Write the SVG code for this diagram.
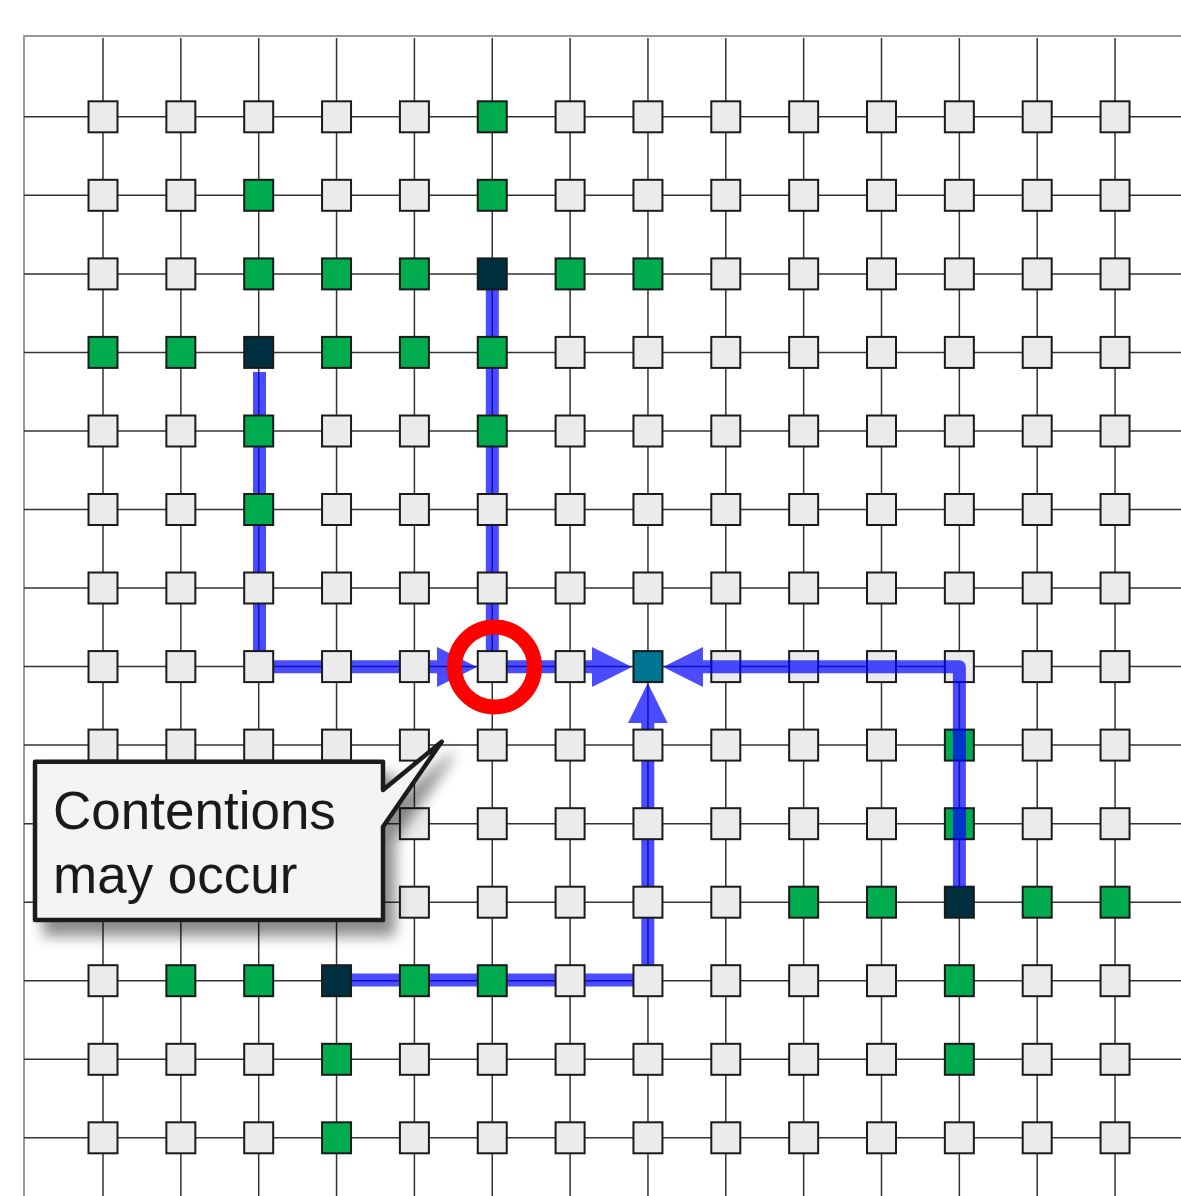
<svg xmlns="http://www.w3.org/2000/svg" xmlns:xlink="http://www.w3.org/1999/xlink" width="1181" height="1196" viewBox="0 0 1181 1196">
<style>
.gl{stroke:#333;stroke-width:1.5;fill:none}
.bd{stroke:#777;stroke-width:1.5;fill:none}
.g{fill:#ebebeb;stroke:#1a1a1a;stroke-width:2}
.gr{fill:#00ac4e;stroke:#1a1a1a;stroke-width:2}
.dk{fill:#003040;stroke:#1a1a1a;stroke-width:2}
.tl{fill:#007592;stroke:#1a1a1a;stroke-width:2}
.bl{opacity:0.7}
.bl path{stroke:#0000ff;stroke-width:13;fill:none;stroke-linejoin:round}
.bl polygon{fill:#0000ff}
.txt{font-family:"Liberation Sans",Arial,sans-serif;font-size:53px;fill:#1a1a1a}
</style>
<defs>
<rect id="sq" x="-14.5" y="-15.5" width="29" height="31"/>
<filter id="sh" x="-20%" y="-20%" width="150%" height="150%">
<feDropShadow dx="10" dy="14" stdDeviation="7" flood-color="#000" flood-opacity="0.45"/>
</filter>
</defs>
<rect width="1181" height="1196" fill="#fff"/>
<g id="grid">
<path class="bd" d="M24,1196 V36 H1181"/>
<path class="gl" d="M24,116.8H1181M24,195.3H1181M24,273.9H1181M24,352.4H1181M24,431H1181M24,509.5H1181M24,588H1181M24,666.6H1181M24,745.1H1181M24,823.7H1181M24,902.2H1181M24,980.7H1181M24,1059.3H1181M24,1137.8H1181"/>
<path class="gl" d="M103,38V1196M180.85,38V1196M258.7,38V1196M336.55,38V1196M414.4,38V1196M492.25,38V1196M570.1,38V1196M647.95,38V1196M725.8,38V1196M803.65,38V1196M881.5,38V1196M959.35,38V1196M1037.2,38V1196M1115.05,38V1196"/>
</g>
<g id="connectors-under" class="bl">
<path d="M259.5,372 V666.8 H437"/>
<polygon points="437,647 477,667 437,687"/>
<path d="M492.3,288 V666.8 H592"/>
<polygon points="592,647 632,667 592,687"/>
<path d="M345,980 H647.8 V723"/>
<polygon points="628,723 647.8,683 667.6,723"/>
</g>
<g id="nodes">
<g id="n0-0" transform="translate(103,116.8)"><use href="#sq" class="g"/></g>
<g id="n0-1" transform="translate(180.85,116.8)"><use href="#sq" class="g"/></g>
<g id="n0-2" transform="translate(258.7,116.8)"><use href="#sq" class="g"/></g>
<g id="n0-3" transform="translate(336.55,116.8)"><use href="#sq" class="g"/></g>
<g id="n0-4" transform="translate(414.4,116.8)"><use href="#sq" class="g"/></g>
<g id="n0-5" transform="translate(492.25,116.8)"><use href="#sq" class="gr"/></g>
<g id="n0-6" transform="translate(570.1,116.8)"><use href="#sq" class="g"/></g>
<g id="n0-7" transform="translate(647.95,116.8)"><use href="#sq" class="g"/></g>
<g id="n0-8" transform="translate(725.8,116.8)"><use href="#sq" class="g"/></g>
<g id="n0-9" transform="translate(803.65,116.8)"><use href="#sq" class="g"/></g>
<g id="n0-10" transform="translate(881.5,116.8)"><use href="#sq" class="g"/></g>
<g id="n0-11" transform="translate(959.35,116.8)"><use href="#sq" class="g"/></g>
<g id="n0-12" transform="translate(1037.2,116.8)"><use href="#sq" class="g"/></g>
<g id="n0-13" transform="translate(1115.05,116.8)"><use href="#sq" class="g"/></g>

<g id="n1-0" transform="translate(103,195.3)"><use href="#sq" class="g"/></g>
<g id="n1-1" transform="translate(180.85,195.3)"><use href="#sq" class="g"/></g>
<g id="n1-2" transform="translate(258.7,195.3)"><use href="#sq" class="gr"/></g>
<g id="n1-3" transform="translate(336.55,195.3)"><use href="#sq" class="g"/></g>
<g id="n1-4" transform="translate(414.4,195.3)"><use href="#sq" class="g"/></g>
<g id="n1-5" transform="translate(492.25,195.3)"><use href="#sq" class="gr"/></g>
<g id="n1-6" transform="translate(570.1,195.3)"><use href="#sq" class="g"/></g>
<g id="n1-7" transform="translate(647.95,195.3)"><use href="#sq" class="g"/></g>
<g id="n1-8" transform="translate(725.8,195.3)"><use href="#sq" class="g"/></g>
<g id="n1-9" transform="translate(803.65,195.3)"><use href="#sq" class="g"/></g>
<g id="n1-10" transform="translate(881.5,195.3)"><use href="#sq" class="g"/></g>
<g id="n1-11" transform="translate(959.35,195.3)"><use href="#sq" class="g"/></g>
<g id="n1-12" transform="translate(1037.2,195.3)"><use href="#sq" class="g"/></g>
<g id="n1-13" transform="translate(1115.05,195.3)"><use href="#sq" class="g"/></g>

<g id="n2-0" transform="translate(103,273.9)"><use href="#sq" class="g"/></g>
<g id="n2-1" transform="translate(180.85,273.9)"><use href="#sq" class="g"/></g>
<g id="n2-2" transform="translate(258.7,273.9)"><use href="#sq" class="gr"/></g>
<g id="n2-3" transform="translate(336.55,273.9)"><use href="#sq" class="gr"/></g>
<g id="n2-4" transform="translate(414.4,273.9)"><use href="#sq" class="gr"/></g>
<g id="n2-5" transform="translate(492.25,273.9)"><use href="#sq" class="dk"/></g>
<g id="n2-6" transform="translate(570.1,273.9)"><use href="#sq" class="gr"/></g>
<g id="n2-7" transform="translate(647.95,273.9)"><use href="#sq" class="gr"/></g>
<g id="n2-8" transform="translate(725.8,273.9)"><use href="#sq" class="g"/></g>
<g id="n2-9" transform="translate(803.65,273.9)"><use href="#sq" class="g"/></g>
<g id="n2-10" transform="translate(881.5,273.9)"><use href="#sq" class="g"/></g>
<g id="n2-11" transform="translate(959.35,273.9)"><use href="#sq" class="g"/></g>
<g id="n2-12" transform="translate(1037.2,273.9)"><use href="#sq" class="g"/></g>
<g id="n2-13" transform="translate(1115.05,273.9)"><use href="#sq" class="g"/></g>

<g id="n3-0" transform="translate(103,352.4)"><use href="#sq" class="gr"/></g>
<g id="n3-1" transform="translate(180.85,352.4)"><use href="#sq" class="gr"/></g>
<g id="n3-2" transform="translate(258.7,352.4)"><use href="#sq" class="dk"/></g>
<g id="n3-3" transform="translate(336.55,352.4)"><use href="#sq" class="gr"/></g>
<g id="n3-4" transform="translate(414.4,352.4)"><use href="#sq" class="gr"/></g>
<g id="n3-5" transform="translate(492.25,352.4)"><use href="#sq" class="gr"/></g>
<g id="n3-6" transform="translate(570.1,352.4)"><use href="#sq" class="g"/></g>
<g id="n3-7" transform="translate(647.95,352.4)"><use href="#sq" class="g"/></g>
<g id="n3-8" transform="translate(725.8,352.4)"><use href="#sq" class="g"/></g>
<g id="n3-9" transform="translate(803.65,352.4)"><use href="#sq" class="g"/></g>
<g id="n3-10" transform="translate(881.5,352.4)"><use href="#sq" class="g"/></g>
<g id="n3-11" transform="translate(959.35,352.4)"><use href="#sq" class="g"/></g>
<g id="n3-12" transform="translate(1037.2,352.4)"><use href="#sq" class="g"/></g>
<g id="n3-13" transform="translate(1115.05,352.4)"><use href="#sq" class="g"/></g>

<g id="n4-0" transform="translate(103,431)"><use href="#sq" class="g"/></g>
<g id="n4-1" transform="translate(180.85,431)"><use href="#sq" class="g"/></g>
<g id="n4-2" transform="translate(258.7,431)"><use href="#sq" class="gr"/></g>
<g id="n4-3" transform="translate(336.55,431)"><use href="#sq" class="g"/></g>
<g id="n4-4" transform="translate(414.4,431)"><use href="#sq" class="g"/></g>
<g id="n4-5" transform="translate(492.25,431)"><use href="#sq" class="gr"/></g>
<g id="n4-6" transform="translate(570.1,431)"><use href="#sq" class="g"/></g>
<g id="n4-7" transform="translate(647.95,431)"><use href="#sq" class="g"/></g>
<g id="n4-8" transform="translate(725.8,431)"><use href="#sq" class="g"/></g>
<g id="n4-9" transform="translate(803.65,431)"><use href="#sq" class="g"/></g>
<g id="n4-10" transform="translate(881.5,431)"><use href="#sq" class="g"/></g>
<g id="n4-11" transform="translate(959.35,431)"><use href="#sq" class="g"/></g>
<g id="n4-12" transform="translate(1037.2,431)"><use href="#sq" class="g"/></g>
<g id="n4-13" transform="translate(1115.05,431)"><use href="#sq" class="g"/></g>

<g id="n5-0" transform="translate(103,509.5)"><use href="#sq" class="g"/></g>
<g id="n5-1" transform="translate(180.85,509.5)"><use href="#sq" class="g"/></g>
<g id="n5-2" transform="translate(258.7,509.5)"><use href="#sq" class="gr"/></g>
<g id="n5-3" transform="translate(336.55,509.5)"><use href="#sq" class="g"/></g>
<g id="n5-4" transform="translate(414.4,509.5)"><use href="#sq" class="g"/></g>
<g id="n5-5" transform="translate(492.25,509.5)"><use href="#sq" class="g"/></g>
<g id="n5-6" transform="translate(570.1,509.5)"><use href="#sq" class="g"/></g>
<g id="n5-7" transform="translate(647.95,509.5)"><use href="#sq" class="g"/></g>
<g id="n5-8" transform="translate(725.8,509.5)"><use href="#sq" class="g"/></g>
<g id="n5-9" transform="translate(803.65,509.5)"><use href="#sq" class="g"/></g>
<g id="n5-10" transform="translate(881.5,509.5)"><use href="#sq" class="g"/></g>
<g id="n5-11" transform="translate(959.35,509.5)"><use href="#sq" class="g"/></g>
<g id="n5-12" transform="translate(1037.2,509.5)"><use href="#sq" class="g"/></g>
<g id="n5-13" transform="translate(1115.05,509.5)"><use href="#sq" class="g"/></g>

<g id="n6-0" transform="translate(103,588)"><use href="#sq" class="g"/></g>
<g id="n6-1" transform="translate(180.85,588)"><use href="#sq" class="g"/></g>
<g id="n6-2" transform="translate(258.7,588)"><use href="#sq" class="g"/></g>
<g id="n6-3" transform="translate(336.55,588)"><use href="#sq" class="g"/></g>
<g id="n6-4" transform="translate(414.4,588)"><use href="#sq" class="g"/></g>
<g id="n6-5" transform="translate(492.25,588)"><use href="#sq" class="g"/></g>
<g id="n6-6" transform="translate(570.1,588)"><use href="#sq" class="g"/></g>
<g id="n6-7" transform="translate(647.95,588)"><use href="#sq" class="g"/></g>
<g id="n6-8" transform="translate(725.8,588)"><use href="#sq" class="g"/></g>
<g id="n6-9" transform="translate(803.65,588)"><use href="#sq" class="g"/></g>
<g id="n6-10" transform="translate(881.5,588)"><use href="#sq" class="g"/></g>
<g id="n6-11" transform="translate(959.35,588)"><use href="#sq" class="g"/></g>
<g id="n6-12" transform="translate(1037.2,588)"><use href="#sq" class="g"/></g>
<g id="n6-13" transform="translate(1115.05,588)"><use href="#sq" class="g"/></g>

<g id="n7-0" transform="translate(103,666.6)"><use href="#sq" class="g"/></g>
<g id="n7-1" transform="translate(180.85,666.6)"><use href="#sq" class="g"/></g>
<g id="n7-2" transform="translate(258.7,666.6)"><use href="#sq" class="g"/></g>
<g id="n7-3" transform="translate(336.55,666.6)"><use href="#sq" class="g"/></g>
<g id="n7-4" transform="translate(414.4,666.6)"><use href="#sq" class="g"/></g>
<g id="n7-5" transform="translate(492.25,666.6)"><use href="#sq" class="g"/></g>
<g id="n7-6" transform="translate(570.1,666.6)"><use href="#sq" class="g"/></g>
<g id="n7-7" transform="translate(647.95,666.6)"><use href="#sq" class="tl"/></g>
<g id="n7-8" transform="translate(725.8,666.6)"><use href="#sq" class="g"/></g>
<g id="n7-9" transform="translate(803.65,666.6)"><use href="#sq" class="g"/></g>
<g id="n7-10" transform="translate(881.5,666.6)"><use href="#sq" class="g"/></g>
<g id="n7-11" transform="translate(959.35,666.6)"><use href="#sq" class="g"/></g>
<g id="n7-12" transform="translate(1037.2,666.6)"><use href="#sq" class="g"/></g>
<g id="n7-13" transform="translate(1115.05,666.6)"><use href="#sq" class="g"/></g>

<g id="n8-0" transform="translate(103,745.1)"><use href="#sq" class="g"/></g>
<g id="n8-1" transform="translate(180.85,745.1)"><use href="#sq" class="g"/></g>
<g id="n8-2" transform="translate(258.7,745.1)"><use href="#sq" class="g"/></g>
<g id="n8-3" transform="translate(336.55,745.1)"><use href="#sq" class="g"/></g>
<g id="n8-4" transform="translate(414.4,745.1)"><use href="#sq" class="g"/></g>
<g id="n8-5" transform="translate(492.25,745.1)"><use href="#sq" class="g"/></g>
<g id="n8-6" transform="translate(570.1,745.1)"><use href="#sq" class="g"/></g>
<g id="n8-7" transform="translate(647.95,745.1)"><use href="#sq" class="g"/></g>
<g id="n8-8" transform="translate(725.8,745.1)"><use href="#sq" class="g"/></g>
<g id="n8-9" transform="translate(803.65,745.1)"><use href="#sq" class="g"/></g>
<g id="n8-10" transform="translate(881.5,745.1)"><use href="#sq" class="g"/></g>
<g id="n8-11" transform="translate(959.35,745.1)"><use href="#sq" class="gr"/></g>
<g id="n8-12" transform="translate(1037.2,745.1)"><use href="#sq" class="g"/></g>
<g id="n8-13" transform="translate(1115.05,745.1)"><use href="#sq" class="g"/></g>

<g id="n9-0" transform="translate(103,823.7)"><use href="#sq" class="g"/></g>
<g id="n9-1" transform="translate(180.85,823.7)"><use href="#sq" class="g"/></g>
<g id="n9-2" transform="translate(258.7,823.7)"><use href="#sq" class="g"/></g>
<g id="n9-3" transform="translate(336.55,823.7)"><use href="#sq" class="g"/></g>
<g id="n9-4" transform="translate(414.4,823.7)"><use href="#sq" class="g"/></g>
<g id="n9-5" transform="translate(492.25,823.7)"><use href="#sq" class="g"/></g>
<g id="n9-6" transform="translate(570.1,823.7)"><use href="#sq" class="g"/></g>
<g id="n9-7" transform="translate(647.95,823.7)"><use href="#sq" class="g"/></g>
<g id="n9-8" transform="translate(725.8,823.7)"><use href="#sq" class="g"/></g>
<g id="n9-9" transform="translate(803.65,823.7)"><use href="#sq" class="g"/></g>
<g id="n9-10" transform="translate(881.5,823.7)"><use href="#sq" class="g"/></g>
<g id="n9-11" transform="translate(959.35,823.7)"><use href="#sq" class="gr"/></g>
<g id="n9-12" transform="translate(1037.2,823.7)"><use href="#sq" class="g"/></g>
<g id="n9-13" transform="translate(1115.05,823.7)"><use href="#sq" class="g"/></g>

<g id="n10-0" transform="translate(103,902.2)"><use href="#sq" class="g"/></g>
<g id="n10-1" transform="translate(180.85,902.2)"><use href="#sq" class="g"/></g>
<g id="n10-2" transform="translate(258.7,902.2)"><use href="#sq" class="g"/></g>
<g id="n10-3" transform="translate(336.55,902.2)"><use href="#sq" class="g"/></g>
<g id="n10-4" transform="translate(414.4,902.2)"><use href="#sq" class="g"/></g>
<g id="n10-5" transform="translate(492.25,902.2)"><use href="#sq" class="g"/></g>
<g id="n10-6" transform="translate(570.1,902.2)"><use href="#sq" class="g"/></g>
<g id="n10-7" transform="translate(647.95,902.2)"><use href="#sq" class="g"/></g>
<g id="n10-8" transform="translate(725.8,902.2)"><use href="#sq" class="g"/></g>
<g id="n10-9" transform="translate(803.65,902.2)"><use href="#sq" class="gr"/></g>
<g id="n10-10" transform="translate(881.5,902.2)"><use href="#sq" class="gr"/></g>
<g id="n10-11" transform="translate(959.35,902.2)"><use href="#sq" class="dk"/></g>
<g id="n10-12" transform="translate(1037.2,902.2)"><use href="#sq" class="gr"/></g>
<g id="n10-13" transform="translate(1115.05,902.2)"><use href="#sq" class="gr"/></g>

<g id="n11-0" transform="translate(103,980.7)"><use href="#sq" class="g"/></g>
<g id="n11-1" transform="translate(180.85,980.7)"><use href="#sq" class="gr"/></g>
<g id="n11-2" transform="translate(258.7,980.7)"><use href="#sq" class="gr"/></g>
<g id="n11-3" transform="translate(336.55,980.7)"><use href="#sq" class="dk"/></g>
<g id="n11-4" transform="translate(414.4,980.7)"><use href="#sq" class="gr"/></g>
<g id="n11-5" transform="translate(492.25,980.7)"><use href="#sq" class="gr"/></g>
<g id="n11-6" transform="translate(570.1,980.7)"><use href="#sq" class="g"/></g>
<g id="n11-7" transform="translate(647.95,980.7)"><use href="#sq" class="g"/></g>
<g id="n11-8" transform="translate(725.8,980.7)"><use href="#sq" class="g"/></g>
<g id="n11-9" transform="translate(803.65,980.7)"><use href="#sq" class="g"/></g>
<g id="n11-10" transform="translate(881.5,980.7)"><use href="#sq" class="g"/></g>
<g id="n11-11" transform="translate(959.35,980.7)"><use href="#sq" class="gr"/></g>
<g id="n11-12" transform="translate(1037.2,980.7)"><use href="#sq" class="g"/></g>
<g id="n11-13" transform="translate(1115.05,980.7)"><use href="#sq" class="g"/></g>

<g id="n12-0" transform="translate(103,1059.3)"><use href="#sq" class="g"/></g>
<g id="n12-1" transform="translate(180.85,1059.3)"><use href="#sq" class="g"/></g>
<g id="n12-2" transform="translate(258.7,1059.3)"><use href="#sq" class="g"/></g>
<g id="n12-3" transform="translate(336.55,1059.3)"><use href="#sq" class="gr"/></g>
<g id="n12-4" transform="translate(414.4,1059.3)"><use href="#sq" class="g"/></g>
<g id="n12-5" transform="translate(492.25,1059.3)"><use href="#sq" class="g"/></g>
<g id="n12-6" transform="translate(570.1,1059.3)"><use href="#sq" class="g"/></g>
<g id="n12-7" transform="translate(647.95,1059.3)"><use href="#sq" class="g"/></g>
<g id="n12-8" transform="translate(725.8,1059.3)"><use href="#sq" class="g"/></g>
<g id="n12-9" transform="translate(803.65,1059.3)"><use href="#sq" class="g"/></g>
<g id="n12-10" transform="translate(881.5,1059.3)"><use href="#sq" class="g"/></g>
<g id="n12-11" transform="translate(959.35,1059.3)"><use href="#sq" class="gr"/></g>
<g id="n12-12" transform="translate(1037.2,1059.3)"><use href="#sq" class="g"/></g>
<g id="n12-13" transform="translate(1115.05,1059.3)"><use href="#sq" class="g"/></g>

<g id="n13-0" transform="translate(103,1137.8)"><use href="#sq" class="g"/></g>
<g id="n13-1" transform="translate(180.85,1137.8)"><use href="#sq" class="g"/></g>
<g id="n13-2" transform="translate(258.7,1137.8)"><use href="#sq" class="g"/></g>
<g id="n13-3" transform="translate(336.55,1137.8)"><use href="#sq" class="gr"/></g>
<g id="n13-4" transform="translate(414.4,1137.8)"><use href="#sq" class="g"/></g>
<g id="n13-5" transform="translate(492.25,1137.8)"><use href="#sq" class="g"/></g>
<g id="n13-6" transform="translate(570.1,1137.8)"><use href="#sq" class="g"/></g>
<g id="n13-7" transform="translate(647.95,1137.8)"><use href="#sq" class="g"/></g>
<g id="n13-8" transform="translate(725.8,1137.8)"><use href="#sq" class="g"/></g>
<g id="n13-9" transform="translate(803.65,1137.8)"><use href="#sq" class="g"/></g>
<g id="n13-10" transform="translate(881.5,1137.8)"><use href="#sq" class="g"/></g>
<g id="n13-11" transform="translate(959.35,1137.8)"><use href="#sq" class="g"/></g>
<g id="n13-12" transform="translate(1037.2,1137.8)"><use href="#sq" class="g"/></g>
<g id="n13-13" transform="translate(1115.05,1137.8)"><use href="#sq" class="g"/></g>
</g>
<g id="connectors-over" class="bl">
<path d="M959.4,887 V666.8 H703"/>
<polygon points="703,647 663,667 703,687"/>
</g>
<g id="contention-mark">
<circle cx="494.5" cy="667" r="40" fill="none" stroke="#ff0000" stroke-width="15"/>
</g>
<g id="callout">
<path d="M35,761.7 H383 V790 L441.7,741.7 L383,826.7 V920 H35 Z" fill="#f4f4f4" stroke="#1a1a1a" stroke-width="4.5" stroke-linejoin="round" filter="url(#sh)"/>
<text class="txt" x="53" y="829">Contentions</text>
<text class="txt" x="53" y="893">may occur</text>
</g>
</svg>
